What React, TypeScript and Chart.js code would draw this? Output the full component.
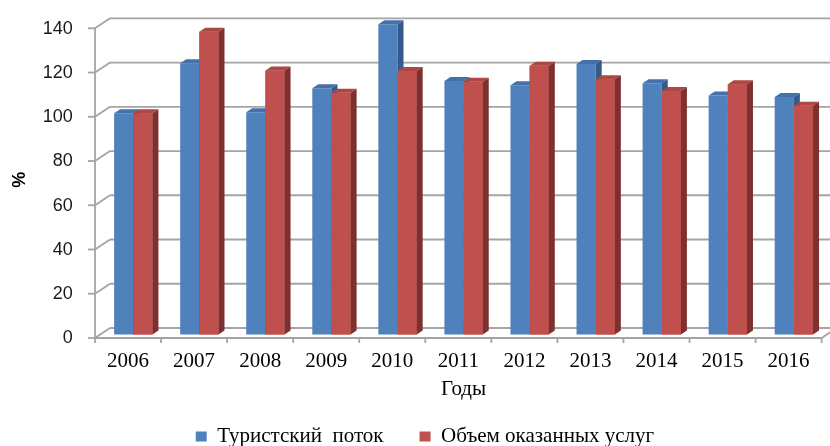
import React, { useEffect, useRef } from 'react';
import { Chart, registerables } from 'chart.js';

Chart.register(...registerables);

const years = ['2006', '2007', '2008', '2009', '2010', '2011', '2012', '2013', '2014', '2015', '2016'];
const touristFlow = [100, 122.6, 100.5, 111.3, 140.2, 114.6, 112.7, 122.3, 113.6, 108, 107.4];
const servicesVolume = [100, 136.9, 119.3, 109.3, 119.1, 114.2, 121.5, 115.4, 110.1, 113.1, 103.4];
const seriesNames = ['Туристский  поток', 'Объем оказанных услуг'];
const yMin = 0;
const yMax = 140;
const yStep = 20;
const xTitle = 'Годы';
const yTitle = '%';

const BLUE = '#4f81bd';
const BLUE_TOP = '#4571aa';
const BLUE_SIDE = '#34598a';
const RED = '#c0504d';
const RED_TOP = '#ad4744';
const RED_SIDE = '#7e302e';
const GRID = '#a4a4a4';

// depth offsets relative to the bar plane
const FRONT = { dx: -5.25, dy: 3.5 };
const BACK = { dx: 9.75, dy: -6.5 };
const BAR_DEPTH = { dx: 6, dy: -4 };

const line = (ctx: CanvasRenderingContext2D, x1: number, y1: number, x2: number, y2: number) => {
  ctx.beginPath();
  ctx.moveTo(x1, y1);
  ctx.lineTo(x2, y2);
  ctx.stroke();
};

const frame3d = {
  id: 'frame3d',
  beforeDatasetsDraw(chart: any) {
    const { ctx, chartArea, scales } = chart;
    const y = scales.y;
    ctx.save();
    ctx.strokeStyle = GRID;
    ctx.lineWidth = 1.8;
    const L = chartArea.left;
    for (const t of y.ticks) {
      const yp = y.getPixelForValue(t.value);
      line(ctx, L + BACK.dx, yp + BACK.dy, chart.width, yp + BACK.dy);
      line(ctx, L + FRONT.dx, yp + FRONT.dy, L + BACK.dx, yp + BACK.dy);
      line(ctx, L + FRONT.dx - 7, yp + FRONT.dy, L + FRONT.dx, yp + FRONT.dy);
    }
    const yTop = y.getPixelForValue(yMax) + FRONT.dy;
    const y0 = y.getPixelForValue(yMin) + FRONT.dy;
    line(ctx, L + FRONT.dx, yTop, L + FRONT.dx, y0);
    line(ctx, L + FRONT.dx, y0, chartArea.right + FRONT.dx, y0);
    line(ctx, chartArea.right + FRONT.dx, y0, chartArea.right + BACK.dx, y.getPixelForValue(yMin) + BACK.dy);
    const n = years.length;
    const cw = (chartArea.right - chartArea.left) / n;
    for (let i = 0; i <= n; i++) {
      const xb = L + i * cw + FRONT.dx;
      line(ctx, xb, y0, xb, y0 + 5);
    }
    ctx.restore();
  },
  afterDatasetsDraw(chart: any) {
    const { ctx } = chart;
    const m0 = chart.getDatasetMeta(0);
    const m1 = chart.getDatasetMeta(1);
    const faces = (b: any, top: string, side: string) => {
      const l = b.x - b.width / 2;
      const r = b.x + b.width / 2;
      ctx.fillStyle = top;
      ctx.beginPath();
      ctx.moveTo(l, b.y);
      ctx.lineTo(r, b.y);
      ctx.lineTo(r + BAR_DEPTH.dx, b.y + BAR_DEPTH.dy);
      ctx.lineTo(l + BAR_DEPTH.dx, b.y + BAR_DEPTH.dy);
      ctx.closePath();
      ctx.fill();
      ctx.fillStyle = side;
      ctx.beginPath();
      ctx.moveTo(r, b.y);
      ctx.lineTo(r + BAR_DEPTH.dx, b.y + BAR_DEPTH.dy);
      ctx.lineTo(r + BAR_DEPTH.dx, b.base + BAR_DEPTH.dy);
      ctx.lineTo(r, b.base);
      ctx.closePath();
      ctx.fill();
    };
    ctx.save();
    for (let i = 0; i < years.length; i++) {
      const b = m0.data[i].getProps(['x', 'y', 'base', 'width'], true);
      faces(b, BLUE_TOP, BLUE_SIDE);
      const r = m1.data[i].getProps(['x', 'y', 'base', 'width'], true);
      ctx.fillStyle = RED;
      ctx.fillRect(r.x - r.width / 2, r.y, r.width, r.base - r.y);
      faces(r, RED_TOP, RED_SIDE);
    }
    ctx.restore();
  },
};

export default function App() {
  const ref = useRef<HTMLCanvasElement>(null);
  useEffect(() => {
    if (!ref.current) return;
    const chart = new Chart(ref.current, {
      type: 'bar',
      data: {
        labels: years,
        datasets: [
          { label: seriesNames[0], data: touristFlow, backgroundColor: BLUE, borderWidth: 0, clip: false } as any,
          { label: seriesNames[1], data: servicesVolume, backgroundColor: RED, borderWidth: 0, clip: false } as any,
        ],
      },
      options: {
        animation: false,
        responsive: false,
        events: [],
        layout: { padding: { left: 23, right: 3.1, top: 24.8, bottom: -11 } },
        datasets: { bar: { categoryPercentage: 0.58, barPercentage: 1 } },
        plugins: {
          legend: {
            position: 'bottom',
            labels: {
              font: { family: 'Liberation Serif', size: 21 },
              color: '#000',
              boxWidth: 11,
              boxHeight: 10,
              padding: 36,
            },
          },
          tooltip: { enabled: false },
        },
        scales: {
          x: {
            grid: { display: false, drawTicks: false },
            border: { display: false },
            ticks: {
              font: { family: 'Liberation Serif', size: 21 },
              color: '#000',
              padding: 14,
              labelOffset: FRONT.dx,
              maxRotation: 0,
              autoSkip: false,
            },
            title: {
              display: true,
              text: xTitle,
              font: { family: 'Liberation Serif', size: 21 },
              color: '#000',
              padding: { top: 0, bottom: -12 },
            },
            afterFit: (s: any) => {
              s.height = 55.5;
              s.paddingLeft = 0;
              s.paddingRight = 0;
            },
          },
          y: {
            min: yMin,
            max: yMax,
            grid: { display: false, drawTicks: false },
            border: { display: false },
            ticks: {
              stepSize: yStep,
              font: { family: 'Liberation Sans', size: 18 },
              color: '#1a1a1a',
              padding: 27.5,
              labelOffset: 3.8,
            },
            title: {
              display: true,
              text: yTitle,
              font: { family: 'Liberation Sans', size: 18, weight: 'bold' },
              color: '#000',
              padding: { top: -13.3, bottom: 0 },
            },
            afterFit: (s: any) => {
              s.width = 77.25;
              s.paddingTop = 0;
              s.paddingBottom = 0;
            },
          },
        },
      } as any,
      plugins: [frame3d],
    });
    return () => chart.destroy();
  }, []);
  return (
    <div style={{ position: 'absolute', left: 0, top: 0, width: 830, height: 446, background: '#fff' }}>
      <canvas ref={ref} width={830} height={446} />
    </div>
  );
}
